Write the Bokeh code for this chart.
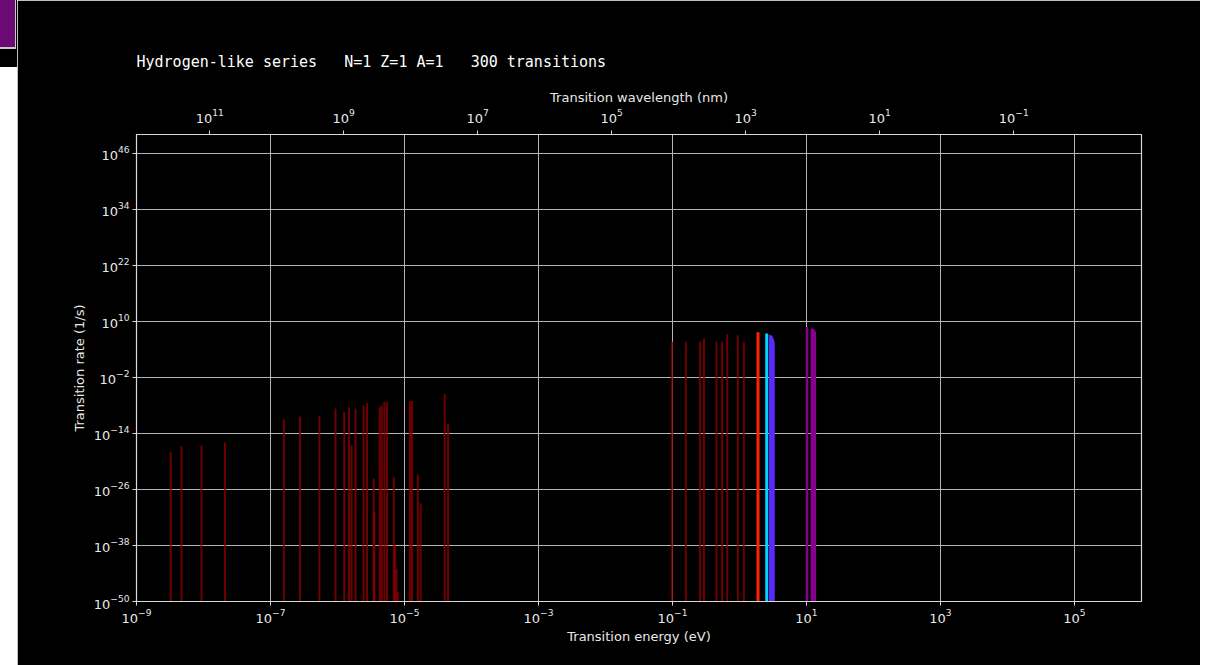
from bokeh.plotting import figure
from bokeh.models import (Range1d, LogScale, LogAxis, FixedTicker, ColumnDataSource, Div, Grid)
from bokeh.layouts import row
from bokeh.embed import file_html
from bokeh.resources import INLINE

# ---------------- data ----------------
TITLE = "Hydrogen-like series\u00a0\u00a0 N=1 Z=1 A=1\u00a0\u00a0 300 transitions"
HC_EV_NM = 1239.84

# transition energies (eV)
line_energy_eV = [
    3.24e-9, 4.68e-9, 9.33e-9, 2.09e-8,
    1.58e-7, 2.75e-7, 5.37e-7, 9.33e-7, 1.26e-6, 1.48e-6, 1.62e-6, 1.86e-6,
    2.45e-6, 2.75e-6, 3.47e-6, 3.55e-6, 4.27e-6, 4.57e-6, 5.01e-6, 5.50e-6,
    6.92e-6, 7.24e-6, 7.59e-6, 7.94e-6, 1.20e-5, 1.29e-5, 1.58e-5, 1.74e-5,
    3.98e-5, 4.47e-5,
    0.0984, 0.158, 0.257, 0.295, 0.454, 0.55, 0.655, 0.944, 1.16,
    1.889, 2.55, 2.856, 3.022, 3.122, 3.186, 3.232,
    10.2, 12.09, 12.75, 13.06, 13.22, 13.32,
]
# transition rates (1/s)
line_rate_per_s = [
    1e-18, 2e-17, 2.5e-17, 1.3e-16,
    1e-11, 4e-11, 6e-11, 2e-9, 4e-10, 4e-9, 2.5e-17, 2e-9,
    1e-8, 3e-8, 2e-24, 1.3e-31, 4e-9, 1e-8, 5e-8, 5e-8,
    4e-24, 1e-38, 1e-43, 1e-48, 8e-8, 8e-8, 1.6e-23, 1e-29,
    2.5e-6, 1.3e-12,
    4e5, 4e5, 4e5, 2e6, 4e5, 4e5, 1.6e7, 1e7, 4e5,
    4.4e7, 2.5e7, 1.2e7, 8e6, 3e6, 1e6, 4e5,
    6.3e8, 3e8, 2e8, 1e8, 5e7, 2.5e7,
]

x_ticks = [1e-9, 1e-7, 1e-5, 1e-3, 1e-1, 1e1, 1e3, 1e5]
wl_ticks = [1e11, 1e9, 1e7, 1e5, 1e3, 1e1, 1e-1]
y_ticks = [1e-50, 1e-38, 1e-26, 1e-14, 1e-2, 1e10, 1e22, 1e34, 1e46]
x_limits = (1e-9, 1e6)
y_limits = (1e-50, 1e50)


def wl_color(wl):
    if wl > 700:
        return "#8b0000", 2.0, 0.8
    if wl > 580:
        return "#ff2200", 3.0, 1.0
    if wl > 470:
        return "#00d4ff", 3.0, 1.0
    if wl >= 380:
        return "#5b2bff", 2.0, 1.0
    return "#87008f", 2.5, 1.0


wls = [HC_EV_NM / e for e in line_energy_eV]
styles = [wl_color(w) for w in wls]
src = ColumnDataSource(dict(
    E=line_energy_eV,
    R=line_rate_per_s,
    base=[y_limits[0]] * len(line_energy_eV),
    color=[s[0] for s in styles],
    width=[s[1] for s in styles],
    alpha=[s[2] for s in styles],
))

TXT = "#e8e8e8"
FONT = "DejaVu Sans"

p = figure(width=1183, height=665, x_axis_type=None, y_axis_type=None,
           x_range=Range1d(*x_limits), y_range=Range1d(*y_limits),
           x_axis_location=None, y_axis_location=None,
           output_backend="svg", toolbar_location=None,
           background_fill_color="black", border_fill_color="black",
           min_border_left=119, min_border_right=59, min_border_top=134,
           min_border_bottom=64)
p.x_scale = LogScale()
p.y_scale = LogScale()
p.outline_line_color = "#d8d8d8"
p.outline_line_width = 1.2

xticker = FixedTicker(ticks=x_ticks)
yticker = FixedTicker(ticks=y_ticks)
p.add_layout(Grid(dimension=0, ticker=xticker, grid_line_color="#b4b4b4", grid_line_width=1))
p.add_layout(Grid(dimension=1, ticker=yticker, grid_line_color="#b4b4b4", grid_line_width=1))

p.segment(x0="E", y0="base", x1="E", y1="R", source=src,
          line_color="color", line_width="width", line_alpha="alpha")

bottom = LogAxis(ticker=xticker, axis_label="Transition energy (eV)")
left = LogAxis(ticker=yticker, axis_label="Transition rate (1/s)")
p.add_layout(bottom, "below")
p.add_layout(left, "left")

wl_lo, wl_hi = HC_EV_NM / x_limits[1], HC_EV_NM / x_limits[0]
p.extra_x_ranges = {"wl": Range1d(start=wl_hi, end=wl_lo)}
p.extra_x_scales = {"wl": LogScale()}
top = LogAxis(x_range_name="wl", ticker=FixedTicker(ticks=wl_ticks),
              axis_label="Transition wavelength (nm)")
p.add_layout(top, "above")

for ax in (bottom, left, top):
    ax.axis_line_color = "#d8d8d8"
    ax.major_tick_line_color = "#d8d8d8"
    ax.major_tick_out = 4
    ax.major_tick_in = 0
    ax.minor_tick_line_color = None
    ax.major_label_text_color = TXT
    ax.major_label_text_font = FONT
    ax.major_label_text_font_size = "13px"
    ax.axis_label_text_color = TXT
    ax.axis_label_text_font = FONT
    ax.axis_label_text_font_size = "13px"
    ax.axis_label_text_font_style = "normal"

bottom.major_label_standoff = 3
bottom.axis_label_standoff = 3
top.major_label_standoff = 8
top.axis_label_standoff = 1
left.major_label_standoff = 3
left.axis_label_standoff = 4

p.title.text = TITLE
p.title.text_font = "DejaVu Sans Mono"
p.title.text_font_size = "15px"
p.title.text_font_style = "normal"
p.title.text_color = "white"
p.title.align = "left"
p.title.standoff = 31

side = Div(width=17, height=665, margin=0, text=(
    '<div style="position:relative;width:17px;height:665px;background:#fff;">'
    '<div style="position:absolute;left:0;top:0;width:17px;height:52px;background:#000;"></div>'
    '<div style="position:absolute;left:0;top:0;width:16px;height:49px;background:#6b0a74;'
    'border-right:1px solid #c8c8c8;border-bottom:2px solid #c8c8c8;"></div>'
    '<div style="position:absolute;left:0;top:52px;width:17px;height:15px;background:#000;"></div>'
    '</div>'))

layout = row(side, p)
open("out.html", "w").write(file_html(layout, INLINE))
